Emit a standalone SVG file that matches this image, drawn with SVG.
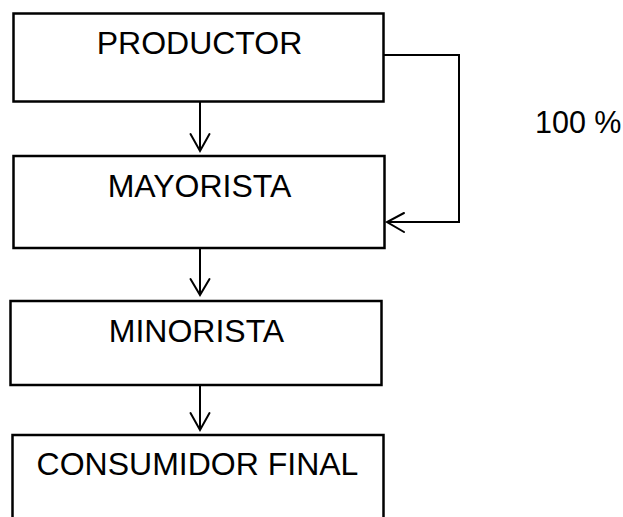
<svg xmlns="http://www.w3.org/2000/svg" width="623" height="517" viewBox="0 0 623 517">
<style>
.box{fill:#fff;stroke:#000;stroke-width:2.5}
.lbl{font-family:"Liberation Sans",Arial,sans-serif;font-size:32px;fill:#000;text-anchor:middle}
.ln{fill:none;stroke:#000;stroke-width:2}
.ah{fill:none;stroke:#000;stroke-width:2;stroke-linecap:round;stroke-linejoin:miter}
</style>
<rect width="623" height="517" fill="#fff"/>
<g id="connectors">
<line class="ln" x1="200" y1="102" x2="200" y2="151"/>
<polyline class="ah" points="190.5,134 200,151 209.5,134"/>
<line class="ln" x1="200" y1="248" x2="200" y2="295"/>
<polyline class="ah" points="190.5,279 200,295 209.5,279"/>
<line class="ln" x1="200" y1="385" x2="200" y2="430"/>
<polyline class="ah" points="190.5,413 200,430 209.5,413"/>
<polyline class="ln" points="384,55 459,55 459,222 387,222"/>
<polyline class="ah" points="404,213 387,222 404,232"/>
<text x="535" y="133" font-family="'Liberation Sans',Arial,sans-serif" font-size="30.5" fill="#000">100 %</text>
</g>
<g id="productor">
<rect class="box" x="13.5" y="13.5" width="370" height="88"/>
<text class="lbl" x="199.5" y="54">PRODUCTOR</text>
</g>
<g id="mayorista">
<rect class="box" x="13.5" y="156" width="371" height="92"/>
<text class="lbl" x="199.5" y="197">MAYORISTA</text>
</g>
<g id="minorista">
<rect class="box" x="10.5" y="301" width="371" height="84"/>
<text class="lbl" x="196.5" y="342">MINORISTA</text>
</g>
<g id="consumidor">
<rect class="box" x="12.5" y="435" width="371" height="100"/>
<text class="lbl" x="197.5" y="475">CONSUMIDOR FINAL</text>
</g>
</svg>
